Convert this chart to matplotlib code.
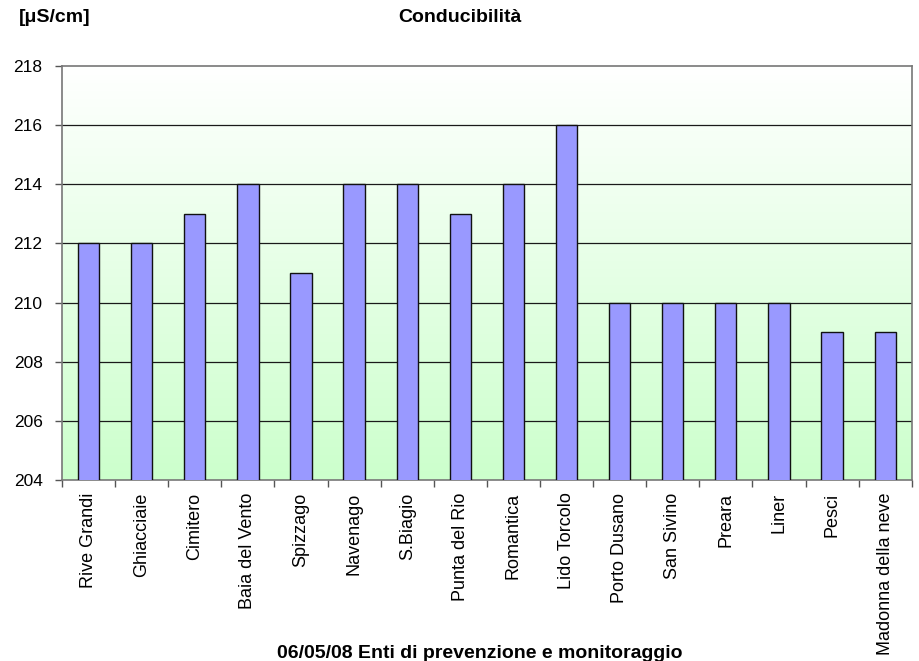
import numpy as np
import matplotlib.pyplot as plt
from matplotlib.colors import LinearSegmentedColormap

plt.rcParams["font.family"] = ["Liberation Sans", "DejaVu Sans"]

stations = ["Rive Grandi", "Ghiacciaie", "Cimitero", "Baia del Vento", "Spizzago",
            "Navenago", "S.Biagio", "Punta del Rio", "Romantica", "Lido Torcolo",
            "Porto Dusano", "San Sivino", "Preara", "Liner", "Pesci",
            "Madonna della neve"]
conductivity = [212, 212, 213, 214, 211, 214, 214, 213, 214, 216,
                210, 210, 210, 210, 209, 209]
y_ticks = [204, 206, 208, 210, 212, 214, 216, 218]

fig = plt.figure(figsize=(9.2, 6.61), dpi=100)
ax = fig.add_axes([0.0674, 0.2738, 0.9236, 0.6262])

# white-to-green plot background
bg = LinearSegmentedColormap.from_list("bg", ["#ccffcc", "#ffffff"])
ax.imshow(np.linspace(0, 1, 256).reshape(-1, 1), cmap=bg, aspect="auto",
          extent=[0, 1, 0, 1], transform=ax.transAxes, origin="lower", zorder=0)

x = np.arange(len(stations))
ax.bar(x, conductivity, width=0.4, color="#9999ff", edgecolor="#111111",
       linewidth=1.0, zorder=3)

ax.set_xlim(-0.5, len(stations) - 0.5)
ax.set_ylim(204, 218)
ax.set_yticks(y_ticks)
ax.set_yticklabels([str(v) for v in y_ticks], fontsize=12.5)
for v in y_ticks[1:-1]:
    ax.axhline(v, color="#1a1a1a", lw=0.9, zorder=1)

ax.set_xticks(x)
ax.set_xticklabels(stations, rotation=90, fontsize=13)
ax.set_xticks(np.arange(len(stations) + 1) - 0.5, minor=True)
ax.tick_params(axis="x", which="major", length=0, pad=9)
ax.tick_params(axis="x", which="minor", length=5, color="#555555", width=1)
ax.tick_params(axis="y", length=5, color="#555555", width=1, pad=9)

for side in ["left", "bottom", "top", "right"]:
    ax.spines[side].set_color("#777777")
    ax.spines[side].set_linewidth(1.2)

fig.text(0.02, 0.974, "[\u03bcS/cm]", fontsize=14, fontweight="bold",
         ha="left", va="center")
fig.text(0.5, 0.974, "Conducibilità", fontsize=14, fontweight="bold",
         ha="center", va="center")
fig.text(0.522, 0.012, "06/05/08 Enti di prevenzione e monitoraggio", fontsize=14,
         fontweight="bold", ha="center", va="center")

fig.savefig("out.png", dpi=100)
